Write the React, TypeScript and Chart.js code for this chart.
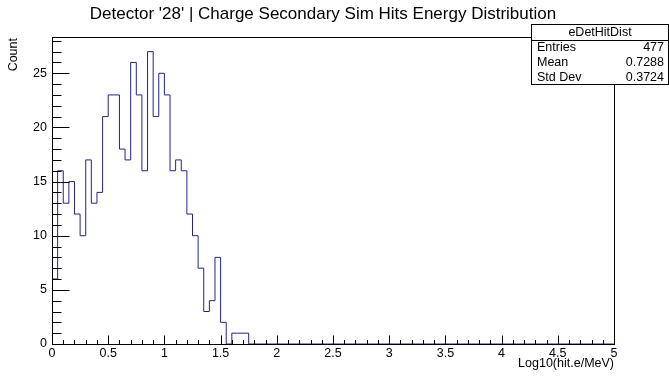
import React, { useEffect, useRef } from "react";
import { Chart, registerables } from "chart.js";

Chart.register(...registerables);

const TITLE = "Detector '28' | Charge Secondary Sim Hits Energy Distribution";
const X_TITLE = "Log10(hit.e/MeV)";
const Y_TITLE = "Count";
const HIST_NAME = "eDetHitDist";
const STAT_LABELS = ["Entries", "Mean", "Std Dev"];
const STAT_VALUES = ["477", "0.7288", "0.3724"];

const X_MIN = 0;
const X_MAX = 5;
const BIN_WIDTH = 0.05;
// counts of the filled bins starting at X_MIN (all later bins are empty)
const BIN_COUNTS = [
  6, 16, 13, 15, 12, 10, 17, 13, 14, 21, 23, 23, 18, 17, 26, 23, 16, 27, 21, 25,
  23, 16, 17, 16, 12, 10, 7, 3, 4, 8, 2, 0, 1, 1, 1,
];
const Y_MIN = 0;
const Y_MAX = 28.35;
const X_MAJOR = 0.5;
const X_MINOR = 0.1;
const Y_MAJOR = 5;
const Y_MINOR = 1;

const FONT = "'Liberation Sans', Arial, Helvetica, sans-serif";
const LINE_COLOR = "#23238c";

export default function App() {
  const ref = useRef<HTMLCanvasElement | null>(null);

  useEffect(() => {
    document.body.style.margin = "0";
    const canvas = ref.current;
    if (!canvas) return;

    const points: { x: number; y: number }[] = [{ x: X_MIN, y: 0 }];
    BIN_COUNTS.forEach((c, i) => points.push({ x: X_MIN + i * BIN_WIDTH, y: c }));
    points.push({ x: X_MIN + BIN_COUNTS.length * BIN_WIDTH, y: 0 });
    points.push({ x: X_MAX, y: 0 });

    const decor = {
      id: "rootDecor",
      afterDraw(chart: any) {
        const ctx = chart.ctx as CanvasRenderingContext2D;
        const a = chart.chartArea;
        const xs = chart.scales.x;
        const ys = chart.scales.y;
        const L = Math.round(a.left) + 0.5;
        const R = Math.round(a.right) + 0.5;
        const T = Math.round(a.top) + 0.5;
        const B = Math.round(a.bottom) + 0.5;
        ctx.save();
        ctx.strokeStyle = "#000";
        ctx.lineWidth = 1;
        // frame
        ctx.strokeRect(L, T, R - L, B - T);
        // x ticks (inward)
        ctx.beginPath();
        const nx = Math.round((X_MAX - X_MIN) / X_MINOR);
        for (let i = 0; i <= nx; i++) {
          const v = X_MIN + i * X_MINOR;
          const px = Math.round(xs.getPixelForValue(v)) + 0.5;
          const major = Math.abs(v / X_MAJOR - Math.round(v / X_MAJOR)) < 1e-6;
          const len = major ? 9 : 4.5;
          ctx.moveTo(px, B);
          ctx.lineTo(px, B - len);
        }
        // y ticks (inward)
        const ny = Math.floor((Y_MAX - Y_MIN) / Y_MINOR);
        for (let i = 0; i <= ny; i++) {
          const v = Y_MIN + i * Y_MINOR;
          const py = Math.round(ys.getPixelForValue(v)) + 0.5;
          const major = Math.abs(v / Y_MAJOR - Math.round(v / Y_MAJOR)) < 1e-6;
          const len = major ? 17 : 9;
          ctx.moveTo(L, py);
          ctx.lineTo(L + len, py);
        }
        ctx.stroke();

        ctx.fillStyle = "#000";
        // title
        ctx.font = `17px ${FONT}`;
        ctx.textAlign = "center";
        ctx.textBaseline = "alphabetic";
        ctx.fillText(TITLE, 323, 19);
        // x title
        ctx.font = `12.5px ${FONT}`;
        ctx.textAlign = "right";
        ctx.fillText(X_TITLE, 614, 367);
        // y title
        ctx.save();
        ctx.translate(17, 38);
        ctx.rotate(-Math.PI / 2);
        ctx.textAlign = "right";
        ctx.font = `12.5px ${FONT}`;
        ctx.fillText(Y_TITLE, 0, 0);
        ctx.restore();

        // stats box
        const bx = 531.5, by = 24.5, bw = 137, bh = 60;
        ctx.fillStyle = "#fff";
        ctx.fillRect(bx, by, bw, bh);
        ctx.strokeRect(bx, by, bw, bh);
        ctx.beginPath();
        ctx.moveTo(bx, 40.5);
        ctx.lineTo(bx + bw, 40.5);
        ctx.stroke();
        ctx.fillStyle = "#000";
        ctx.font = `12.5px ${FONT}`;
        ctx.textAlign = "center";
        ctx.fillText(HIST_NAME, bx + bw / 2, 36);
        STAT_LABELS.forEach((lab, i) => {
          const yb = 51 + i * 15;
          ctx.textAlign = "left";
          ctx.fillText(lab, 537, yb);
          ctx.textAlign = "right";
          ctx.fillText(STAT_VALUES[i], 664, yb);
        });
        ctx.restore();
      },
    };

    const xTickVals: number[] = [];
    for (let v = X_MIN; v <= X_MAX + 1e-9; v += X_MAJOR) xTickVals.push(+v.toFixed(2));

    const chart = new Chart(canvas, {
      type: "line",
      data: {
        datasets: [
          {
            data: points,
            borderColor: LINE_COLOR,
            borderWidth: 1,
            pointRadius: 0,
            stepped: true,
            fill: false,
          } as any,
        ],
      },
      options: {
        animation: false,
        responsive: false,
        maintainAspectRatio: false,
        devicePixelRatio: 1,
        layout: { padding: { left: 0, top: 37, right: 55, bottom: 0 } },
        plugins: {
          legend: { display: false },
          title: { display: false },
          tooltip: { enabled: false },
        },
        scales: {
          x: {
            type: "linear",
            min: X_MIN,
            max: X_MAX,
            grid: { display: false, drawTicks: false },
            border: { display: false },
            afterFit: (s: any) => {
              s.height = 32;
            },
            afterBuildTicks: (s: any) => {
              s.ticks = xTickVals.map((v) => ({ value: v }));
            },
            ticks: {
              includeBounds: false,
              autoSkip: false,
              maxRotation: 0,
              padding: 2,
              color: "#000",
              font: { family: FONT, size: 12.5 },
              callback: (v: any) => String(+(+v).toFixed(2)),
            },
          },
          y: {
            type: "linear",
            min: Y_MIN,
            max: Y_MAX,
            grid: { display: false, drawTicks: false },
            border: { display: false },
            afterFit: (s: any) => {
              s.width = 52;
            },
            ticks: {
              stepSize: Y_MAJOR,
              includeBounds: false,
              padding: 5,
              color: "#000",
              font: { family: FONT, size: 12.5 },
            },
          },
        },
      },
      plugins: [decor],
    });

    return () => chart.destroy();
  }, []);

  return (
    <canvas
      ref={ref}
      width={669}
      height={376}
      style={{ display: "block", width: 669, height: 376, background: "#fff" }}
    />
  );
}
